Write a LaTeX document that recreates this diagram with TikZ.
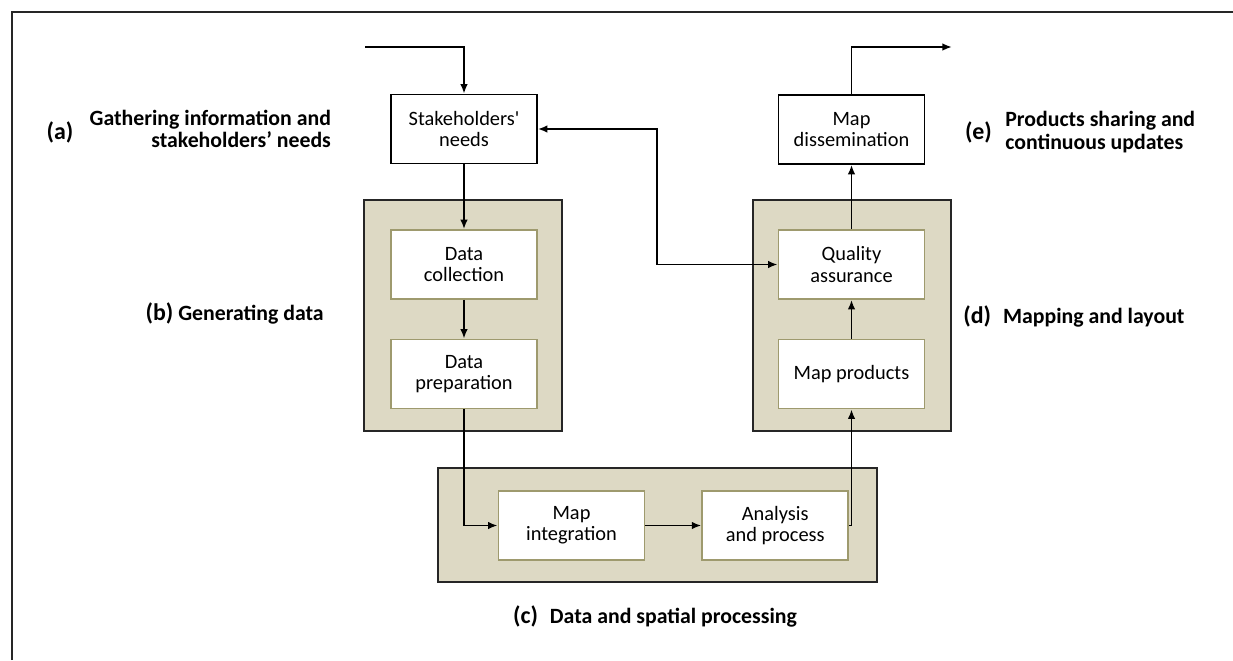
\documentclass[tikz,border=0pt]{standalone}
\usepackage{fontspec}
\setmainfont{Carlito}
\usetikzlibrary{arrows.meta,positioning}
\definecolor{tan}{HTML}{DDD9C4}
\definecolor{olivedge}{HTML}{9E9A6E}
\tikzset{
  kozep/.style={draw=black,fill=white,line width=1.1pt,minimum width=3.65cm,minimum height=1.725cm,
                align=center,inner sep=2pt,font=\fontsize{14.5}{15}\selectfont},
  belso/.style={kozep,draw=olivedge,line width=1.2pt},
  szakasz/.style={draw=black!85,fill=tan,line width=1.1pt},
  cimke/.style={font=\fontsize{15.5}{16}\selectfont\bfseries,inner sep=0pt},
  jel/.style={cimke,font=\fontsize{17}{18}\selectfont\bfseries},
  nyil/.style={-{Latex[length=2.4mm,width=1.9mm]},line width=1.35pt},
  kettos/.style={{Latex[length=2.4mm,width=1.9mm]}-{Latex[length=2.4mm,width=1.9mm]},line width=1.35pt},
}
\begin{document}
\begin{tikzpicture}[x=0.025cm,y=-0.025cm]
  \useasboundingbox (0,0) rectangle (1233,660);
  \draw[line width=2pt,black!85] (12,660) -- (12,12) -- (1233,12);
  % stage backgrounds
  \draw[szakasz] (364,200) rectangle (562,431);
  \draw[szakasz] (753,200) rectangle (951,431);
  \draw[szakasz] (438,468) rectangle (877,582);
  % boxes
  \node[kozep] (need) at (464,129) {Stakeholders\textquotesingle\\needs};
  \node[belso] (coll) at (464,264.5) {Data\\collection};
  \node[belso] (prep) at (464,374) {Data\\preparation};
  \node[belso] (integ) at (571.5,525.5) {Map\\integration};
  \node[belso,right=1.4cm of integ] (anal) {Analysis\\and process};
  \node[belso] (prod) at (851.5,374) {Map products};
  \node[belso] (qual) at (851.5,264.5) {Quality\\assurance};
  \node[kozep] (diss) at (851.5,129.5) {Map\\dissemination};
  \coordinate (be) at (365,47);
  \coordinate (ki) at (952,47);
  \coordinate (fb) at (657,264.5);
  % labels
  \node[cimke,align=right,left=1.475cm of need.west,anchor=east] (lblA) {Gathering information and\\stakeholders’ needs};
  \node[jel] (tagA) at (60,132) {(a)};
  \node[cimke,anchor=east] (lblB) at (324,313) {{\fontsize{17}{18}\selectfont(b)} Generating data};
  \node[cimke] (lblC) at (655,616) {{\fontsize{17}{18}\selectfont(c)}\hspace{0.3cm}Data and spatial processing};
  \node[cimke,anchor=west] (lblD) at (963,316) {{\fontsize{17}{18}\selectfont(d)}\hspace{0.3cm}Mapping and layout};
  \node[cimke,align=left,anchor=west] (lblE) at (1005,132) {Products sharing and\\continuous updates};
  \node[jel,left=0.32cm of lblE.west,anchor=east] (tagE) {(e)};
  % connectors
  \draw[nyil] (be) -| (need);
  \draw[nyil] (need) -- (coll);
  \draw[nyil] (coll) -- (prep);
  \draw[nyil] (prep) |- (integ);
  \draw[nyil] (integ) -- (anal);
  \draw[nyil] (anal) -| (prod);
  \draw[nyil] (prod) -- (qual);
  \draw[nyil] (qual) -- (diss);
  \draw[nyil] (diss) |- (ki);
  \draw[kettos] (need.east) -| (fb) -- (qual.west);
\end{tikzpicture}
\end{document}
